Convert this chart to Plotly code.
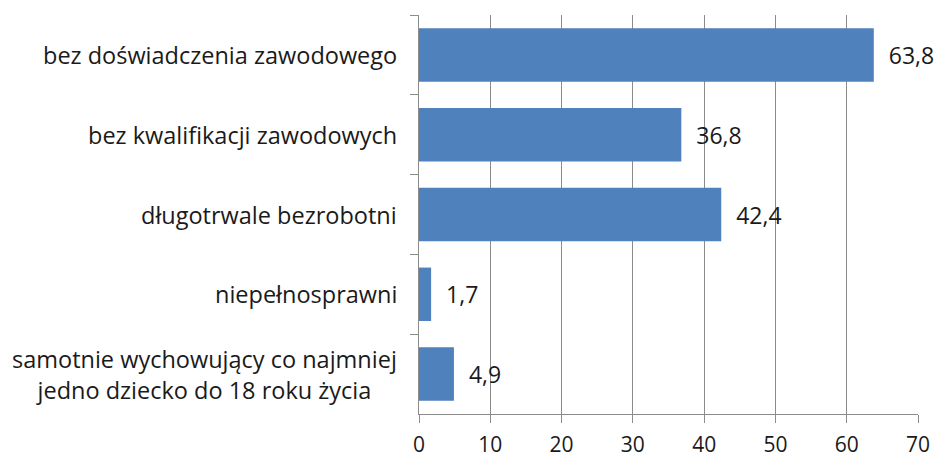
import plotly.graph_objects as go

categories = [
    "bez doświadczenia zawodowego",
    "bez kwalifikacji zawodowych",
    "długotrwale bezrobotni",
    "niepełnosprawni",
    "samotnie wychowujący co najmniej<br>jedno dziecko do 18 roku życia",
]
values = [63.8, 36.8, 42.4, 1.7, 4.9]
labels = ["\u00a0\u00a0" + f"{v:.1f}".replace(".", ",") for v in values]

BAR = "#4F81BD"
GRID = "#8C8C8C"
TXT = "#1a1a1a"

fig = go.Figure(go.Bar(
    x=values, y=categories, orientation="h",
    marker=dict(color=BAR, line=dict(width=0)),
    text=labels, textposition="outside", cliponaxis=False,
    textfont=dict(size=23, color=TXT),
))

# etykiety kategorii jako adnotacje (wyśrodkowane wiersze, jak w Excelu)
for cat in categories:
    fig.add_annotation(
        x=0, xref="paper", y=cat, yref="y", text=cat, showarrow=False,
        xanchor="right", align="center", xshift=-20,
        font=dict(size=23.5, color=TXT),
    )

fig.update_layout(
    width=938, height=459,
    plot_bgcolor="white", paper_bgcolor="white",
    font=dict(family="Open Sans, Arial", size=23, color=TXT),
    margin=dict(l=419, r=20, t=15, b=45),
    bargap=0.33,
    showlegend=False,
)
fig.update_xaxes(
    range=[0, 70], dtick=10, showgrid=True, gridcolor=GRID, gridwidth=1,
    showline=True, linecolor=GRID, ticks="outside", ticklen=8, tickcolor=GRID,
    zeroline=False, tickfont=dict(size=21), automargin=False,
    ticklabelstandoff=4,
)
fig.update_yaxes(
    autorange="reversed", showline=True, linecolor=GRID,
    ticks="outside", ticklen=8, tickcolor=GRID, tickson="boundaries",
    showgrid=False, showticklabels=False, automargin=False,
)

fig.write_html("out.html", config={"displayModeBar": False},
               post_script="document.body.style.margin='0';")
